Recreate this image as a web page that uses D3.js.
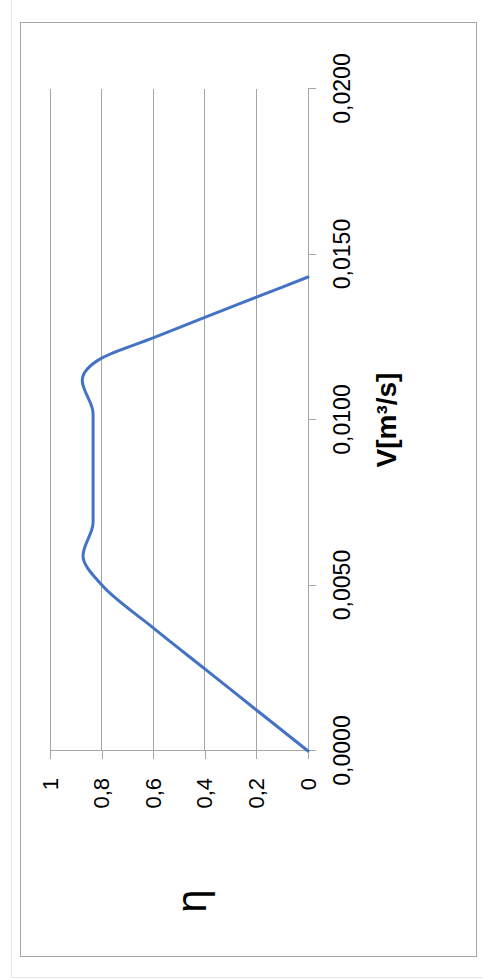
<!DOCTYPE html>
<html>
<head>
<meta charset="utf-8">
<script src="https://cdn.jsdelivr.net/npm/d3@7"></script>
<style>
  html, body { margin: 0; padding: 0; background: #fff; }
  svg { display: block; font-family: "Liberation Sans", Arial, sans-serif; }
</style>
</head>
<body>
<script>
// Data
const flowRate = [0, 0.00124, 0.00248, 0.00372, 0.00502, 0.0059, 0.0069, 0.0102, 0.0112, 0.01187, 0.01248, 0.0131, 0.01371, 0.01432];
const efficiency = [0, 0.2, 0.4, 0.6, 0.8, 0.872, 0.833, 0.833, 0.875, 0.8, 0.6, 0.4, 0.2, 0];
const xTicks = [0, 0.005, 0.01, 0.015, 0.02];
const yTicks = [0, 0.2, 0.4, 0.6, 0.8, 1];
const xTitle = "V[m³/s]";
const yTitle = "η";

const W = 483, H = 980;
const svg = d3.select("body").append("svg").attr("width", W).attr("height", H);

// outer frame and chart border
svg.append("rect").attr("x", 11.5).attr("y", -10).attr("width", 480).attr("height", 987.5)
  .attr("fill", "none").attr("stroke", "#e6e6e6");
svg.append("rect").attr("x", 20.5).attr("y", 22.5).attr("width", 456).attr("height", 934)
  .attr("fill", "#fff").attr("stroke", "#a6a6a6");

// plot in unrotated frame: width = V axis, height = η axis
const pw = 662, ph = 258;
const x = d3.scaleLinear().domain([0, 0.02]).range([0, pw]);
const y = d3.scaleLinear().domain([0, 1]).range([ph, 0]);

const g = svg.append("g").attr("transform", "translate(50,751) rotate(-90)");

// gridlines
g.append("g").selectAll("line").data(yTicks.filter(d => d > 0)).join("line")
  .attr("x1", 0).attr("x2", pw).attr("y1", d => y(d)).attr("y2", d => y(d))
  .attr("stroke", "#a6a6a6").attr("stroke-width", 1).attr("shape-rendering", "crispEdges");

const fmtX = d => d3.format(".4f")(d).replace(".", ",");
const fmtY = d => (d === 0 || d === 1) ? String(d) : String(d).replace(".", ",");

const xAxis = g.append("g").attr("transform", `translate(0,${ph})`)
  .call(d3.axisBottom(x).tickValues(xTicks).tickFormat(fmtX).tickSize(8).tickSizeOuter(0).tickPadding(18));
const yAxis = g.append("g")
  .call(d3.axisLeft(y).tickValues(yTicks).tickFormat(fmtY).tickSize(8).tickSizeOuter(0).tickPadding(19));

[xAxis, yAxis].forEach(a => {
  a.select(".domain").attr("stroke", "#a6a6a6").attr("shape-rendering", "crispEdges");
  a.selectAll(".tick line").attr("stroke", "#a6a6a6").attr("shape-rendering", "crispEdges");
  a.selectAll("text").attr("fill", "#000").attr("font-family", "Liberation Sans, Arial, sans-serif");
});
xAxis.selectAll("text").attr("font-size", 23);
yAxis.selectAll("text").attr("font-size", 22);

// curve
const pts = flowRate.map((v, i) => [v, efficiency[i]]);
g.append("path").datum(pts)
  .attr("fill", "none").attr("stroke", "#4472C4").attr("stroke-width", 3).attr("stroke-linecap", "round")
  .attr("d", d3.line().x(d => x(d[0])).y(d => y(d[1])).curve(d3.curveMonotoneX));

// axis titles
svg.append("text").attr("transform", "translate(396,420) rotate(-90)")
  .attr("text-anchor", "middle").attr("font-size", 28).attr("font-weight", "bold")
  .attr("fill", "#000").text(xTitle);
svg.append("text").attr("transform", "translate(206,901) rotate(-90)")
  .attr("text-anchor", "middle").attr("font-size", 42)
  .attr("fill", "#000").text(yTitle);
</script>
</body>
</html>
